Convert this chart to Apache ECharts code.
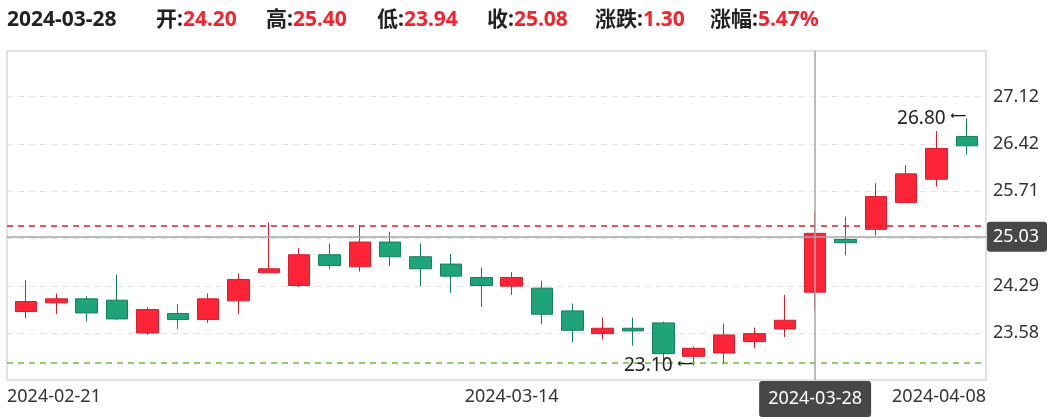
<!DOCTYPE html>
<html><head><meta charset="utf-8">
<script src="https://cdn.jsdelivr.net/npm/echarts@6/dist/echarts.min.js"></script>
<style>html,body{margin:0;padding:0;background:#fff}#c{width:1056px;height:417px}</style>
</head><body><div id="c"></div>
<script>
const dates = ['2024-02-21','2024-02-22','2024-02-23','2024-02-26','2024-02-27','2024-02-28','2024-02-29','2024-03-01',
  '2024-03-04','2024-03-05','2024-03-06','2024-03-07','2024-03-08','2024-03-11','2024-03-12','2024-03-13',
  '2024-03-14','2024-03-15','2024-03-18','2024-03-19','2024-03-20','2024-03-21','2024-03-22','2024-03-25',
  '2024-03-26','2024-03-27','2024-03-28','2024-03-29','2024-04-01','2024-04-02','2024-04-03','2024-04-08'];
const opens  = [23.91,24.04,24.10,24.08,23.59,23.88,23.79,24.07,24.49,24.30,24.76,24.58,24.95,24.73,24.62,24.42,
  24.29,24.26,23.92,23.58,23.66,23.74,23.24,23.29,23.46,23.65,24.20,24.99,25.14,25.54,25.89,26.53];
const closes = [24.06,24.10,23.89,23.80,23.94,23.79,24.10,24.39,24.55,24.76,24.60,24.95,24.73,24.55,24.44,24.30,
  24.42,23.87,23.63,23.66,23.62,23.28,23.36,23.56,23.58,23.78,25.08,24.94,25.63,25.97,26.35,26.39];
const lows   = [23.81,23.87,23.76,23.78,23.56,23.65,23.74,23.87,24.48,24.28,24.55,24.51,24.59,24.29,24.19,23.98,
  24.16,23.72,23.45,23.49,23.40,23.18,23.10,23.12,23.36,23.53,23.94,24.75,25.05,25.54,25.78,26.26];
const highs  = [24.38,24.18,24.14,24.46,23.98,24.02,24.18,24.48,25.24,24.86,24.93,25.20,25.10,24.93,24.77,24.57,
  24.50,24.37,24.03,23.82,23.82,23.76,23.39,23.73,23.67,24.16,25.40,25.33,25.83,26.10,26.61,26.80];
const yTicks = [23.584, 24.292, 25.000, 25.708, 26.416, 27.124];
const xLabelValues = [-0.626, 16, 31.63];
const refLines = [25.19, 23.15];
const selIdx = 26;
const crossY = 25.03;

const UP = '#fc2436', UP_B = '#d4202f', DOWN = '#1fa47a', DOWN_B = '#15805c';
const FONT = '"Noto Sans", "Noto Sans CJK SC", sans-serif';

const candleData = dates.map((d, i) => [i, opens[i], closes[i], lows[i], highs[i]]);
const dateAt = v => dates[Math.min(dates.length - 1, Math.max(0, Math.round(v)))];

const prevClose = closes[selIdx - 1];
const chg = closes[selIdx] - prevClose;
const headerItems = [
  ['开', opens[selIdx].toFixed(2)],
  ['高', highs[selIdx].toFixed(2)],
  ['低', lows[selIdx].toFixed(2)],
  ['收', closes[selIdx].toFixed(2)],
  ['涨跌', chg.toFixed(2)],
  ['涨幅', (chg / prevClose * 100).toFixed(2) + '%']
];
const headerX = [156, 266, 377, 487, 595, 710];

const graphics = [{
  type: 'text', left: 7, top: 10,
  style: { text: dates[selIdx], fill: '#222', font: 'bold 21px ' + FONT }
}].concat(headerItems.map((it, k) => ({
  type: 'text', left: headerX[k], top: 10,
  style: {
    text: '{k|' + it[0] + ':}{v|' + it[1] + '}',
    rich: {
      k: { fill: '#222', fontSize: 21, fontWeight: 'bold', fontFamily: FONT },
      v: { fill: '#f5222d', fontSize: 21, fontWeight: 'bold', fontFamily: FONT }
    }
  }
})));

const chart = echarts.init(document.getElementById('c'));
chart.setOption({
  animation: false,
  graphic: graphics,
  grid: { left: 7, right: 70, top: 51, bottom: 37, show: true, borderColor: '#d9d9d9', borderWidth: 1.5, backgroundColor: 'transparent' },
  xAxis: {
    type: 'value', min: -0.626, max: 31.63,
    axisLine: { show: false }, axisTick: { show: false }, splitLine: { show: false },
    axisLabel: {
      customValues: xLabelValues, formatter: v => dateAt(v),
      color: '#333', fontSize: 18, fontFamily: FONT, margin: 8,
      alignMinLabel: 'left', alignMaxLabel: 'right'
    },
    axisPointer: {
      show: true, type: 'line', value: selIdx, status: 'show', snap: false, triggerTooltip: false,
      lineStyle: { color: '#a6a6a6', width: 1.5, type: 'solid' },
      label: { show: true, formatter: p => dateAt(p.value), backgroundColor: '#474747', color: '#fff',
        padding: [9, 9, 9, 9], fontSize: 18, fontFamily: FONT, margin: 1, borderRadius: 3 }
    }
  },
  yAxis: {
    type: 'value', position: 'right', min: 22.886, max: 27.808, scale: true,
    axisLine: { show: false },
    axisTick: { show: false, customValues: yTicks },
    axisLabel: { customValues: yTicks, formatter: v => v.toFixed(2), color: '#333', fontSize: 18, fontFamily: FONT, margin: 7 },
    splitLine: { show: true, lineStyle: { color: '#e3e3e3', type: [6, 5], width: 1 } },
    axisPointer: {
      show: true, type: 'line', value: crossY, status: 'show', snap: false, triggerTooltip: false,
      lineStyle: { color: '#a6a6a6', width: 1.5, type: 'solid' },
      label: { show: true, formatter: p => Number(p.value).toFixed(2), backgroundColor: '#474747', color: '#fff',
        padding: [6, 8, 6, 6], fontSize: 18, fontFamily: FONT, margin: 1, borderRadius: 3 }
    }
  },
  series: [{
    type: 'candlestick',
    data: candleData,
    encode: { x: 0, y: [1, 2, 3, 4] },
    barWidth: 22,
    itemStyle: { color: UP, color0: DOWN, borderColor: UP_B, borderColor0: DOWN_B, borderWidth: 1 },
    markPoint: {
      symbol: 'circle', symbolSize: 1, itemStyle: { color: 'rgba(0,0,0,0)' }, silent: true,
      label: { show: true, position: 'left', distance: 0,
        formatter: p => '{t|' + Number(p.value).toFixed(2) + ' }{a|\u27F5}',
        rich: {
          t: { color: '#222', fontSize: 19, fontFamily: FONT },
          a: { color: '#111', fontSize: 11, fontFamily: '"DejaVu Sans"', fontWeight: 'bold', padding: [0, 0, 4, 0] }
        }
      },
      data: [{ type: 'max', valueDim: 'highest' }, { type: 'min', valueDim: 'lowest' }]
    },
    markLine: {
      silent: true, symbol: ['none', 'none'], label: { show: false },
      lineStyle: { type: [6, 5], width: 1.5 },
      data: [
        { yAxis: refLines[0], lineStyle: { color: '#d9202f', type: [6, 5], width: 1.5 } },
        { yAxis: refLines[1], lineStyle: { color: '#6cc13d', type: [6, 5], width: 1.5 } }
      ]
    }
  }]
});
</script></body></html>
